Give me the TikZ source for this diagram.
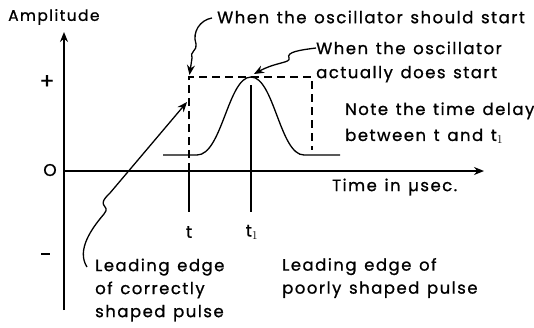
\documentclass[tikz,border=0pt]{standalone}
\usepackage{fontspec}
\setmainfont{Poppins}[LetterSpace=9, FakeBold=0.9, WordSpace=1.3]
\usepackage{tikz}
\usetikzlibrary{arrows.meta, positioning}

\begin{document}
\begin{tikzpicture}[
    x=1pt, y=-1pt,
    >={Stealth[length=10pt, width=8pt]},
    lbl/.style={anchor=west, inner sep=0pt, font=\fontsize{16.5}{24}\selectfont, align=left},
    tick/.style={inner sep=0pt, font=\fontsize{17}{18}\selectfont},
    curve/.style={line width=1.3pt},
    guide/.style={line width=1.2pt, dash pattern=on 8pt off 5pt}
]
\useasboundingbox (0,0) rectangle (534,327);

% Axes
\coordinate (origin) at (64,171);
\coordinate (ytop) at (64,32);
\coordinate (ybot) at (64,310);
\coordinate (xend) at (484,171);
\draw[curve, ->] (ybot) -- (ytop);
\draw[curve, ->] (origin) -- (xend);
\node[lbl, font=\fontsize{15.5}{18}\selectfont] (amp) at (8,17) {Amplitude};
\node[lbl] (time) at (332,187) {Time in µsec.};
\node[tick, font=\fontsize{22}{22}\selectfont] (plus) at (47,82) {+};
\node[tick] (zero) at (50,170) {O};
\draw[line width=1.6pt] (41,254) -- (50,254) coordinate (minus);

% Pulse
\coordinate (p0) at (163,155);
\coordinate (p1) at (197,155);
\coordinate (peak) at (251,77);
\coordinate (p2) at (304,155);
\coordinate (p3) at (340,155);
\draw[curve] (p0) -- (p1) .. controls (222,155) and (228,77) .. (peak)
    .. controls (274,77) and (280,155) .. (p2) -- (p3);

% Dashed window
\coordinate (wa) at (189,77);
\coordinate (wb) at (312,77);
\coordinate (wc) at (312,150);
\coordinate (wd) at (189,171);
\draw[guide] (wd) -- (wa) -- (wb) -- (wc);

% Time marks
\coordinate (ta) at (189,212);
\coordinate (tb) at (251,85);
\coordinate (tc) at (251,212);
\draw[curve] (wd) -- (ta);
\draw[curve] (tb) -- (tc);
\node[tick] (t) at (189,232) {t};
\node[tick] (t1) at (252,232) {t$_1$};

% Labels
\node[lbl] (should) at (217,17) {When the oscillator should start};
\node[lbl] (does) at (316,62) {When the oscillator\\actually does start};
\node[lbl, font=\fontsize{16.5}{26}\selectfont] (note) at (345,123) {Note the time delay\\between t and t$_1$};
\node[lbl, font=\fontsize{16.5}{23}\selectfont] (good) at (95,290) {Leading edge\\of correctly\\shaped pulse};
\node[lbl, font=\fontsize{16.5}{23}\selectfont] (poor) at (282,278) {Leading edge of\\poorly shaped pulse};

% Leaders
\coordinate (s0) at (212,18);
\coordinate (s1) at (189.5,75);
\draw[curve, ->] (s0) .. controls (200,20) and (192,32) .. (196,44)
    .. controls (198,50) and (189,52) .. (192,58) -- (s1);
\coordinate (d0) at (316,48);
\coordinate (d1) at (254,74);
\draw[curve, ->] (d0) .. controls (300,50) and (286,52) .. (289,58)
    .. controls (291,63) and (276,62) .. (d1);
\coordinate (g0) at (87,267);
\coordinate (g1) at (187,102);
\draw[curve, ->] (g0) .. controls (76,250) and (92,228) .. (104,214)
    .. controls (112,204) and (94,208) .. (110,193) -- (g1);

\end{tikzpicture}
\end{document}
